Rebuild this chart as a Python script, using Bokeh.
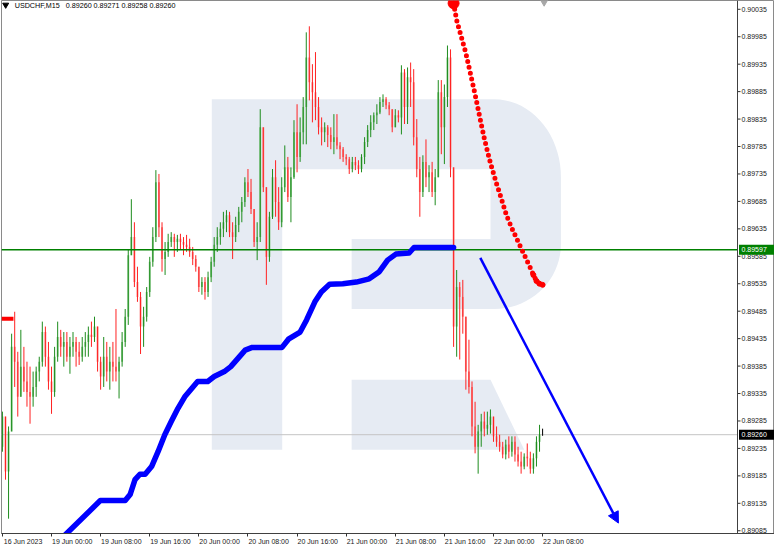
import numpy as np
from bokeh.plotting import figure
from bokeh.models import (Range1d, FixedTicker, Label, Arrow, NormalHead, Span)
from bokeh.core.properties import value
from bokeh.embed import file_html
from bokeh.resources import INLINE

# ---------------- data (30-minute bars, values in points above 0.89000) ----------------
SYMBOL = "USDCHF,M15"
BASE = 0.89
PT = 0.00001

bar_tick_pos = [0, 16, 32, 48, 64, 80, 96, 112, 128, 144, 160, 176]
bar_tick_labels = ["16 Jun 2023", "19 Jun 00:00", "19 Jun 08:00", "19 Jun 16:00",
                   "20 Jun 00:00", "20 Jun 08:00", "20 Jun 16:00", "21 Jun 00:00",
                   "21 Jun 08:00", "21 Jun 16:00", "22 Jun 00:00", "22 Jun 08:00"]

price_ticks = [0.89085, 0.89135, 0.89185, 0.89235, 0.89285, 0.89335, 0.89385,
               0.89435, 0.89485, 0.89535, 0.89585, 0.89635, 0.89685, 0.89735,
               0.89785, 0.89835, 0.89885, 0.89935, 0.89985, 0.90035]

first_open = 238
high = [302, 280, 275, 444, 484, 411, 451, 420, 393, 384, 375, 384, 402, 466, 457, 429,
        384, 420, 466, 451, 447, 447, 438, 447, 438, 429, 438, 447, 457, 466, 475, 447,
        402, 438, 429, 420, 429, 489, 402, 447, 489, 597, 689, 647, 566, 520, 493, 529,
        584, 638, 742, 735, 647, 611, 626, 629, 626, 624, 626, 620, 624, 617, 602, 587,
        566, 547, 547, 557, 584, 620, 638, 647, 666, 669, 666, 647, 657, 675, 693, 729,
        744, 726, 666, 647, 853, 807, 702, 666, 744, 760, 711, 729, 787, 766, 747, 833,
        862, 838, 875, 993, 1004, 935, 957, 875, 838, 829, 824, 820, 844, 844, 793, 784,
        771, 766, 766, 766, 760, 771, 802, 824, 842, 847, 862, 875, 880, 875, 866, 853,
        853, 851, 933, 926, 929, 938, 926, 835, 766, 769, 798, 751, 757, 744, 906, 906,
        898, 969, 962, 747, 560, 538, 542, 475, 433, 357, 320, 278, 298, 302, 302, 306,
        293, 275, 260, 247, 251, 257, 257, 257, 238, 229, 226, 244, 229, 226, 257, 278,
        271]
low = [229, 178, 107, 275, 347, 293, 338, 338, 311, 280, 311, 329, 357, 384, 384, 342,
       298, 329, 393, 402, 384, 393, 371, 402, 384, 387, 393, 402, 402, 420, 429, 375,
       342, 347, 357, 342, 357, 357, 326, 384, 420, 460, 587, 529, 502, 407, 420, 466,
       511, 566, 611, 620, 557, 551, 584, 602, 584, 593, 598, 587, 593, 584, 569, 557,
       520, 515, 506, 511, 538, 566, 593, 606, 620, 629, 620, 580, 611, 629, 647, 675,
       693, 662, 602, 578, 611, 702, 533, 575, 653, 657, 633, 638, 702, 684, 647, 726,
       738, 757, 789, 789, 869, 829, 833, 807, 787, 793, 784, 780, 771, 780, 762, 757,
       751, 735, 738, 742, 735, 738, 753, 784, 802, 815, 826, 844, 857, 853, 842, 811,
       820, 829, 807, 826, 826, 857, 787, 729, 657, 693, 711, 702, 693, 678, 729, 771,
       753, 857, 729, 420, 402, 397, 444, 342, 335, 257, 226, 189, 238, 257, 260, 262,
       247, 238, 229, 217, 215, 217, 220, 211, 202, 189, 197, 202, 189, 189, 202, 229,
       258]
close = [293, 193, 266, 420, 393, 329, 384, 357, 338, 329, 347, 375, 393, 447, 402, 357,
         338, 402, 438, 420, 429, 402, 420, 429, 411, 402, 420, 429, 442, 438, 457, 393,
         366, 402, 375, 393, 384, 375, 393, 429, 475, 587, 620, 538, 511, 457, 475, 520,
         575, 620, 720, 638, 580, 593, 611, 620, 611, 617, 611, 606, 602, 593, 580, 566,
         529, 538, 520, 547, 575, 606, 620, 635, 647, 660, 629, 620, 642, 666, 684, 720,
         702, 671, 611, 620, 820, 711, 584, 657, 729, 684, 647, 711, 747, 693, 729, 811,
         766, 811, 857, 947, 902, 884, 857, 820, 811, 820, 806, 793, 802, 787, 780, 766,
         762, 744, 757, 751, 744, 766, 793, 815, 829, 842, 847, 866, 871, 860, 853, 820,
         842, 838, 920, 857, 911, 902, 802, 744, 702, 757, 729, 738, 702, 729, 884, 820,
         875, 947, 747, 457, 529, 511, 475, 375, 347, 275, 238, 266, 284, 271, 278, 293,
         257, 247, 238, 224, 242, 229, 247, 224, 211, 202, 220, 217, 198, 217, 247, 260,
         260]

# blue indicator line (bar index, points)
blue_bar = [20, 31.9, 40, 41.6, 43.2, 44.8, 46.5, 48.6, 50.7, 52.9, 55, 57.2, 59.4, 63.6,
            66.9, 69, 72.3, 74.4, 79.1, 81.4, 91.1, 93.2, 97, 99.1, 101.8, 103.9, 106.6,
            110.9, 115.3, 119.5, 122.8, 125.5, 128.2, 132.5, 134.1, 147]
blue_pts = [75, 140, 140, 151, 178, 188, 188, 202, 229, 260, 284, 308, 329, 357, 357, 366,
            375, 384, 414, 419, 419, 434, 447, 469, 502, 520, 534, 535, 538, 544, 557, 578,
            589, 591, 601, 601]

# red dotted indicator (one value per bar from bar 147)
red_start = 147
red_pts = [1046, 1015, 995, 975, 955, 930, 905, 880, 853, 826, 800, 777, 755, 736, 717,
           700, 682, 664, 649, 636, 624, 612, 600, 588, 576, 564, 551, 540, 535, 533]

level_price = 0.89597
left_marker_price = 0.89471
arrow_bars = [155.7, 200.7]
arrow_prices = [0.89582, 0.89099]

# ---------------- derived ----------------
n = len(close)
idx = np.arange(n)
opens = np.array([first_open] + close[:-1], dtype=float)
cl = np.array(close, dtype=float)
hi = np.maximum(np.array(high, dtype=float), np.maximum(opens, cl))
lo = np.minimum(np.array(low, dtype=float), np.minimum(opens, cl))
to_price = lambda v: BASE + np.asarray(v, dtype=float) * PT
o_p, h_p, l_p, c_p = to_price(opens), to_price(hi), to_price(lo), to_price(cl)
last_price = float(c_p[-1])

# chart area -0.3 .. 239.5 bars over 736 px; price scale occupies 37 px more on the right
X0, X1 = -0.3, 239.5
PX = (X1 - X0) / 736.0          # bars per pixel
XEND = X1 + 37 * PX
Y0, Y1 = 0.89080, 0.90051

p = figure(width=774, height=547, output_backend="svg", toolbar_location=None,
           x_range=Range1d(X0, XEND), y_range=Range1d(Y0, Y1),
           y_axis_location=None, min_border_left=1, min_border_right=0,
           min_border_top=0, min_border_bottom=0)
p.background_fill_color = "white"
p.border_fill_color = "white"
p.outline_line_color = "#8a8a8a"
p.xgrid.visible = False
p.ygrid.visible = False

# ---------------- watermark logo (screen-fixed decoration, in frame fractions) ----------------
def frame_to_data(px, py):
    fx = (np.asarray(px) - 3.0) / 742.0
    fy = (np.asarray(py) - 3.0) / 534.0
    return X0 + fx * (X1 - X0), Y1 - fy * (Y1 - Y0)

t1 = np.linspace(np.pi / 2, 0, 20)
t2 = np.linspace(0, -np.pi / 2, 20)
arc1 = [(500 + 67 * np.cos(t), 180 - 78 * np.sin(t)) for t in t1]
arc2 = [(500 + 67 * np.cos(t), 247 - 65 * np.sin(t)) for t in t2]
logo = ([(215, 102)] + arc1 + arc2 +
        [(356, 312), (356, 242), (496, 242), (496, 172), (286, 172), (286, 453), (215, 453)])
lx, ly = frame_to_data([q[0] for q in logo], [q[1] for q in logo])
p.patch(lx, ly, fill_color="#e6ebf3", line_color=None)
leg = [(356, 383), (496, 383), (530, 453), (356, 453)]
gx, gy = frame_to_data([q[0] for q in leg], [q[1] for q in leg])
p.patch(gx, gy, fill_color="#e6ebf3", line_color=None)

# current price line (under candles)
p.segment(x0=[X0], y0=[last_price], x1=[X1], y1=[last_price], line_color="#c4c4c4",
          line_width=1)

# ---------------- candles ----------------
bull = c_p > o_p
bear = c_p < o_p
body_col = np.where(bull, "#7cc47c", np.where(bear, "#f78888", "#000000"))
wick_col = np.where(bull, "#1e8c1e", np.where(bear, "#ff2222", "#000000"))
p.vbar(x=idx, width=0.6, top=np.maximum(o_p, c_p), bottom=np.minimum(o_p, c_p),
       fill_color=list(body_col), line_color=None)
p.segment(x0=idx, y0=l_p, x1=idx, y1=h_p, line_color=list(wick_col), line_width=1)

# green level line
p.segment(x0=[X0], y0=[level_price], x1=[X1], y1=[level_price], line_color="#008000",
          line_width=1.6)

# left red marker
p.segment(x0=[X0], y0=[left_marker_price], x1=[3.6], y1=[left_marker_price],
          line_color="#ff0000", line_width=4)

# blue indicator
p.line(blue_bar, to_price(blue_pts), line_color="#0000ff", line_width=5.5,
       line_join="round", line_cap="round")

# red dotted indicator
red_x = np.arange(red_start, red_start + len(red_pts))
red_y = to_price(red_pts)
p.line(red_x, red_y, line_color="#ff0000", line_width=5,
       line_dash="0 6", line_cap="round", line_join="round")
p.scatter(red_x[-4:], red_y[-4:], size=5, marker="circle",
          fill_color="#ff0000", line_color="#ff0000")
p.scatter([red_x[0]], [red_y[0]], size=11, marker="circle",
          fill_color="#ff0000", line_color="#ff0000")

# forecast arrow
p.add_layout(Arrow(end=NormalHead(size=11, fill_color="#0000ff", line_color="#0000ff"),
                   x_start=arrow_bars[0], y_start=arrow_prices[0],
                   x_end=arrow_bars[1], y_end=arrow_prices[1],
                   line_color="#0000ff", line_width=2.5))

# top markers
p.scatter([1.06], [0.90043], marker="inverted_triangle", size=6, fill_color="black",
          line_color="black")
p.scatter([176.5], [0.90049], marker="inverted_triangle", size=8, fill_color="#a8a8a8",
          line_color="#a8a8a8")

# header text
FONT = "Liberation Sans"
p.add_layout(Label(x=4.0, y=0.90042, text=SYMBOL, text_font=FONT, text_font_size="7.2px",
                   text_baseline="middle", text_color="#000000"))
ohlc_text = " ".join("%.5f" % v for v in (o_p[-1], h_p[-1], l_p[-1], c_p[-1]))
p.add_layout(Label(x=20.6, y=0.90042, text=ohlc_text, text_font=FONT,
                   text_font_size="7.2px", text_baseline="middle", text_color="#000000"))

# ---------------- time axis ----------------
offset = 6.75
p.xaxis.ticker = FixedTicker(ticks=[t + offset for t in bar_tick_pos], minor_ticks=bar_tick_pos)
p.xaxis.major_label_overrides = {t + offset: lab for t, lab in zip(bar_tick_pos, bar_tick_labels)}
p.xaxis.major_tick_line_color = None
p.xaxis.major_tick_out = 3
p.xaxis.major_tick_in = 0
p.xaxis.minor_tick_out = 3
p.xaxis.minor_tick_in = 0
p.xaxis.minor_tick_line_color = "#303030"
p.xaxis.major_label_standoff = 1
p.xaxis.axis_line_color = "#404040"
p.xaxis.major_label_text_font = FONT
p.xaxis.major_label_text_font_size = "7px"
p.xaxis.major_label_text_color = "#202020"

# ---------------- price scale (drawn in the right strip of the plot) ----------------
p.add_layout(Span(location=X1, dimension="height", line_color="#404040", line_width=1))
p.segment(x0=[X1] * len(price_ticks), y0=price_ticks,
          x1=[X1 + 3 * PX] * len(price_ticks), y1=price_ticks,
          line_color="#303030", line_width=1)
p.text(x=[X1 + 4 * PX] * len(price_ticks), y=price_ticks,
       text=["%.5f" % v for v in price_ticks], text_font=value(FONT),
       text_font_size="7px", text_baseline="middle", text_align="left",
       text_color="#202020")

box_prices = [level_price, last_price]
box_colors = ["#008000", "#000000"]
p.rect(x=[X1 + 19 * PX] * 2, y=box_prices, width=35, height=10,
       width_units="screen", height_units="screen",
       fill_color=box_colors, line_color=None)
p.text(x=[X1 + 4 * PX] * 2, y=box_prices, text=["%.5f" % v for v in box_prices],
       text_font=value(FONT), text_font_size="7px", text_baseline="middle",
       text_align="left", text_color="white")

open("out.html", "w").write(file_html(p, INLINE))
